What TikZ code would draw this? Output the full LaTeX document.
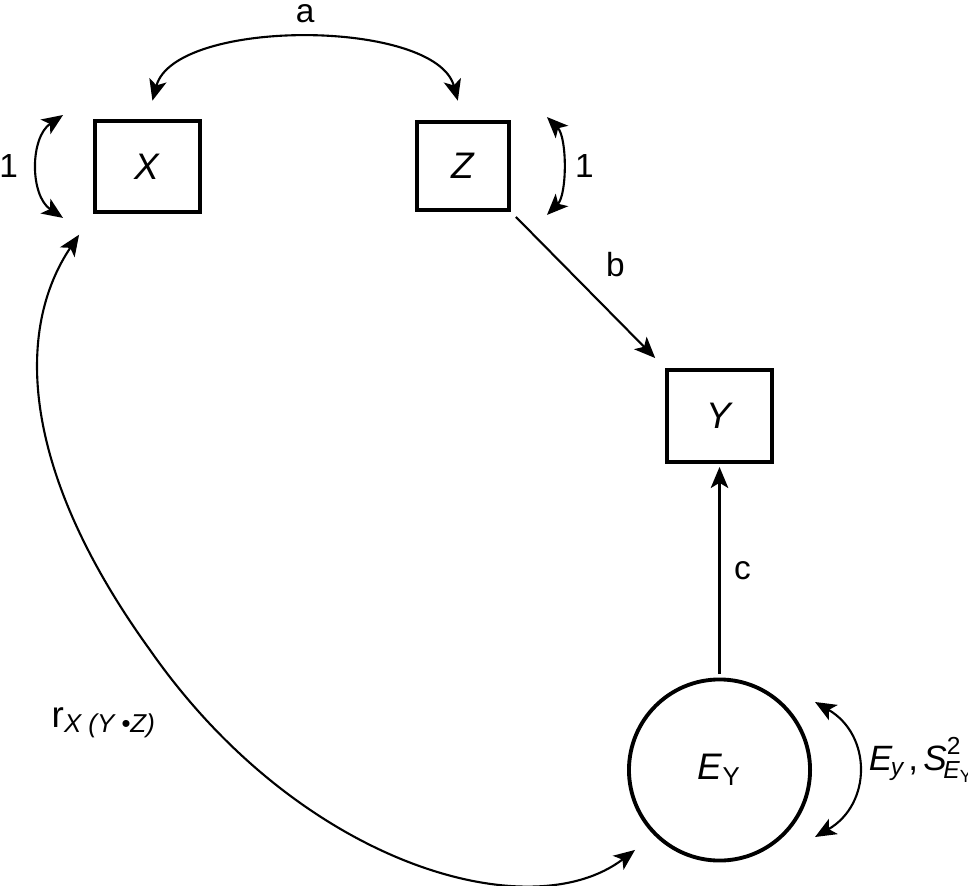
\documentclass[tikz,border=0pt]{standalone}
\usepackage{fontspec}
\setmainfont{Liberation Sans}
\usepackage{amsmath}
\usepackage{tikz}
\usetikzlibrary{arrows.meta, calc, positioning}

\begin{document}
\begin{tikzpicture}[x=0.01cm, y=0.01cm,
        >={Stealth[length=6pt, width=5pt, inset=1.5pt]},
        var/.style={draw, line width=1.1pt, inner sep=0pt, font=\fontsize{10.5}{12}\selectfont},
        latent/.style={var, circle, minimum size=1.81cm},
        path/.style={->, line width=0.6pt},
        cov/.style={<->, line width=0.6pt},
        lbl/.style={inner sep=0pt, font=\fontsize{9.5}{11}\selectfont}]
        \useasboundingbox (0,0) rectangle (968,885);

        \node[var, minimum width=1.05cm, minimum height=0.91cm] (X) at (147.5,718.5) {\textit{X}};
        \node[var, minimum width=0.92cm, minimum height=0.88cm] (Z) at (463,719) {\textit{Z}};
        \node[var, minimum width=1.05cm, minimum height=0.92cm] (Y) at (719.5,469) {\textit{Y}};
        \node[latent] (EY) at (719.5,115) {\textit{E}\textsubscript{Y}};
        \node[lbl, anchor=base west, font=\fontsize{10.5}{12}\selectfont] (rxyz) at (51,158)
             {r$_{\textit{X (Y •Z)}}$};

        % paths
        \draw[path, shorten <=0.07cm, shorten >=0.14cm] (Z.south east) -- node[lbl, above right=0.125cm and 0.17cm] {b} (Y.north west);
        \draw[path, shorten <=0.035cm, shorten >=0.03cm] (EY.north) -- node[lbl, right=0.135cm] {c} (Y.south);

        % covariances
        \draw[cov, shorten <=0.19cm, shorten >=0.2cm] (X.north) to[out=75, in=105, looseness=0.85]
             node[lbl, above=0.2cm] {a} (Z.north);
        \draw[cov, shorten <=0.25cm, shorten >=0.24cm] (X.south west)
             .. controls (15,555) and (20,415) .. (150,235)
             .. controls (300,20) and (530,-45) .. (EY.south west);

        % variances
        \draw[cov] ($(X.north west)+(-30,4)$) to[bend right=56]
             node[lbl, left=0.19cm] {1} ($(X.south west)+(-30,-4)$);
        \draw[cov] ($(Z.north east)+(36,3)$) to[bend left=45, looseness=0.75]
             node[lbl, right=0.12cm] {1} ($(Z.south east)+(36,-3)$);
        \draw[cov] ($(EY.center)+(95.5,68)$) to[bend left=60, looseness=1.25]
             node[lbl, anchor=base west, xshift=0.1cm, yshift=-0.005cm, font=\fontsize{10}{12}\selectfont]
             {\textit{E}\kern-0.5pt$_{\textit{y}}$\kern1pt,\kern1.5pt$\textit{S}^{\text{2}}_{\kern-1pt\textit{E}_{\text{Y}}}$}
             ($(EY.center)+(95.5,-67)$);
\end{tikzpicture}
\end{document}
